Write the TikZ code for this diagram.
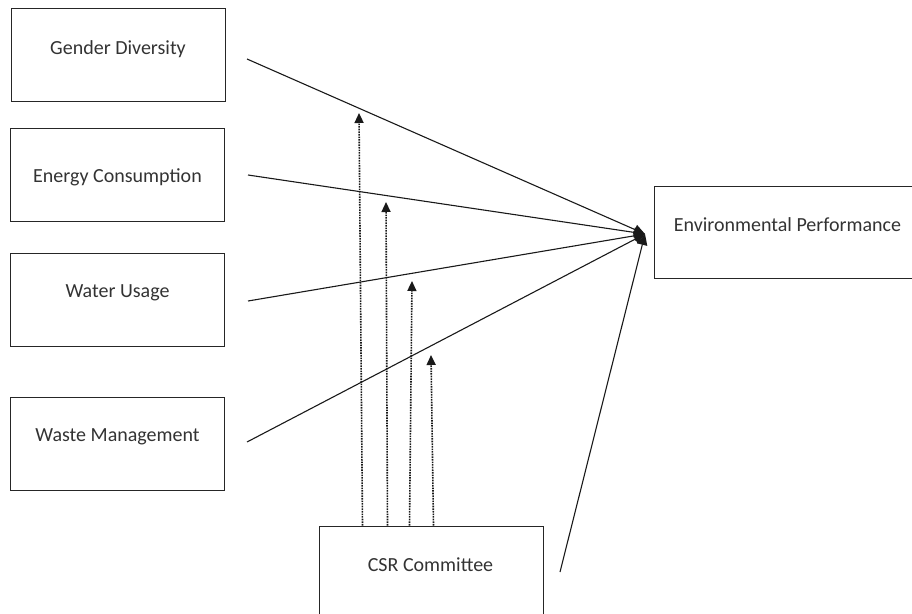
\documentclass[tikz,border=0pt]{standalone}
\usepackage{fontspec}
\setmainfont{Carlito}
\usetikzlibrary{arrows.meta,calc}
\begin{document}
\begin{tikzpicture}[x=1pt,y=-1pt,
  box/.style={draw=black!85, line width=1pt, minimum width=214pt, minimum height=93pt, inner sep=0pt},
  lbl/.style={font=\fontsize{20}{24}\selectfont, text=black!80, inner sep=0pt, text height=13pt, text depth=4pt},
  link/.style={draw=black!90, line width=1.1pt, -{Triangle[length=11pt,width=10pt]}},
  modl/.style={draw=black!90, line width=1.6pt, densely dotted, -{Triangle[length=10pt,width=9pt]}}]
\path[use as bounding box] (0,0) rectangle (912,613);
\clip (0,0) rectangle (912,613);
% boxes
\node[box] (gd) at (118,54.5) {};
\node[lbl] (gdt) at (118,50) {Gender Diversity};
\node[box] (ec) at (117.5,174.5) {};
\node[lbl] (ect) at (117.5,177.5) {Energy Consumption};
\node[box] (wu) at (117.5,299.5) {};
\node[lbl] (wut) at (117.5,293) {Water Usage};
\node[box] (wm) at (117.5,443.5) {};
\node[lbl] (wmt) at (117.5,437) {Waste Management};
\node[box, minimum width=300pt, minimum height=92pt] (ep) at (804,232) {};
\node[lbl] (ept) at (787.5,227) {Environmental Performance};
\node[box, minimum width=224pt, minimum height=120pt] (csr) at (431,586) {};
\node[lbl] (csrt) at (430.5,567) {CSR Committee};
% connector end points
\coordinate (hub) at (645,234);
\coordinate (gs) at (247,59);
\coordinate (es) at (248,175);
\coordinate (ws) at (248,301);
\coordinate (ms) at (247,442);
\coordinate (cs) at (560,572);
\coordinate (t1) at (359,113);
\coordinate (t2) at (386,202);
\coordinate (t3) at (412,281);
\coordinate (t4) at (431,355);
% solid links
\draw[link] (gs) -- (hub);
\draw[link] (es) -- (hub);
\draw[link] (ws) -- (hub);
\draw[link] (ms) -- (hub);
\draw[link] (cs) -- (hub);
% moderating dotted arrows
\draw[modl] ($(csr.north west)+(44,0)$) -- (t1);
\draw[modl] ($(csr.north west)+(69,0)$) -- (t2);
\draw[modl] ($(csr.north west)+(91,0)$) -- (t3);
\draw[modl] ($(csr.north west)+(115,0)$) -- (t4);
\end{tikzpicture}
\end{document}
